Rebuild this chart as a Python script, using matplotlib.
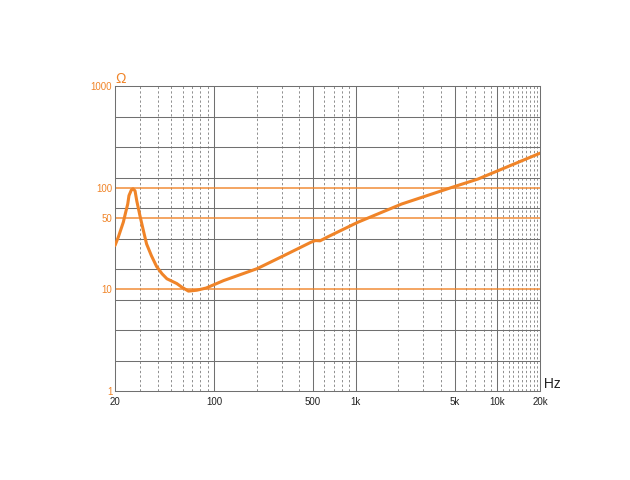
import matplotlib
matplotlib.use('Agg')
from matplotlib import pyplot as plt

# impedance curve (Hz, ohm)
freq = [20, 21.1, 22.9, 23.8, 24.6, 25.1, 26.1, 26.8, 27.7, 28.5, 30, 31.7,
        33.4, 36.1, 39.3, 43, 46.5, 54.6, 59.3, 66, 75.6, 88, 117, 202, 312,
        482, 520, 560, 640, 1036, 2108, 4781, 7300, 20600]
imp = [27, 32.6, 45.8, 57.4, 69, 83.6, 95, 97.5, 93, 74, 53, 38,
       28, 21.5, 16.8, 14.2, 12.7, 11.4, 10.5, 9.6, 9.8, 10.3, 12.2, 16, 21.5,
       29, 30.2, 30, 33, 45.7, 69, 100.7, 121.6, 222]

x_major = [100, 500, 1000, 5000, 10000]
x_minor = [30, 40, 50, 60, 70, 80, 90, 200, 300, 400, 600, 700, 800, 900,
           2000, 3000, 4000, 6000, 7000, 8000, 9000,
           11000, 12000, 13000, 14000, 15000, 16000, 17000, 18000, 19000]
x_ticks = [20, 100, 500, 1000, 5000, 10000, 20000]
x_labels = ['20', '100', '500', '1k', '5k', '10k', '20k']
y_ticks = [1, 10, 50, 100, 1000]
y_labels = ['1', '10', '50', '100', '1000']
y_orange = [10, 50, 100]

orange = '#f08428'
grey = '#707070'

plt.rcParams['font.family'] = ['Liberation Sans', 'DejaVu Sans']

fig = plt.figure(figsize=(6.3, 4.8), dpi=100)
ax = fig.add_axes([115 / 630, 1 - 391 / 480, 425 / 630, 305 / 480])
ax.set_xscale('log')
ax.set_yscale('log')
ax.set_xlim(20, 20000)
ax.set_ylim(1, 1000)

# grey horizontal lines every 0.3 decade
for k in range(1, 10):
    ax.axhline(10 ** (0.3 * k), color=grey, lw=0.75, zorder=1)
for v in x_major:
    ax.axvline(v, color=grey, lw=0.75, zorder=1)
for v in x_minor:
    ax.axvline(v, color=grey, lw=0.55, ls=(0, (3, 3)), zorder=1)
for v in y_orange:
    ax.axhline(v, color=orange, lw=1.2, alpha=0.85, zorder=2)

ax.plot(freq, imp, color=orange, lw=2.2, zorder=3, solid_capstyle='round',
        solid_joinstyle='round')

for s in ax.spines.values():
    s.set_color(grey)
    s.set_linewidth(0.75)

ax.set_xticks(x_ticks)
ax.set_xticklabels(x_labels)
ax.set_yticks(y_ticks)
ax.set_yticklabels(y_labels)
ax.minorticks_off()
ax.tick_params(axis='x', length=0, pad=4, labelsize=7, labelcolor='#222222')
ax.tick_params(axis='y', length=0, pad=2, labelsize=7, labelcolor=orange)

ax.text(1.0, 0.0, ' Hz', transform=ax.transAxes, fontsize=10,
        color='#222222', ha='left', va='bottom')
ax.text(0.0, 1.0, '\u03a9', transform=ax.transAxes, fontsize=10,
        color=orange, ha='left', va='bottom')

fig.savefig('out.png', dpi=100, facecolor='white')
